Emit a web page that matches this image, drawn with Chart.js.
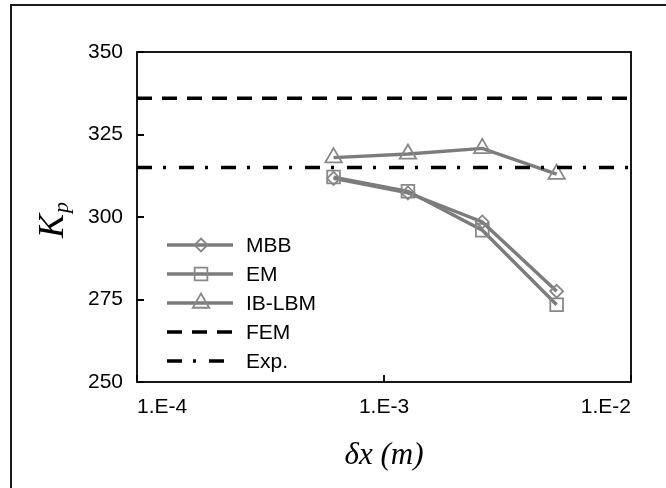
<!DOCTYPE html>
<html><head><meta charset="utf-8">
<script src="https://cdn.jsdelivr.net/npm/chart.js@4.4.0/dist/chart.umd.min.js"></script>
<style>html,body{margin:0;padding:0;background:#fff;}canvas{display:block;}</style>
</head><body>
<canvas id="c" width="666" height="488"></canvas>
<script>
// ---- data ----
const dx = [6.25e-4, 1.25e-3, 2.5e-3, 5e-3];
const mbb = [311.7, 307.3, 298.5, 277.5];
const em = [312.1, 307.8, 296.0, 273.4];
const iblbm = [318.0, 319.1, 320.8, 313.0];
const refX = [1e-4, 1e-2];
const fem = [336, 336];
const expv = [315, 315];
const xTickValues = [1e-4, 1e-3, 1e-2];
const xTickLabels = ['1.E-4', '1.E-3', '1.E-2'];
const yTicks = [250, 275, 300, 325, 350];
const seriesNames = ['MBB', 'EM', 'IB-LBM', 'FEM', 'Exp.'];

const GRAY = '#7c7c7c';
const SANS = '"Liberation Sans", Arial, sans-serif';
const SERIF = '"Liberation Serif", "Times New Roman", serif';

function series(label, vals, style, r) {
  return {
    label, data: dx.map((x, i) => ({x, y: vals[i]})),
    borderColor: GRAY, borderWidth: 3.4, pointStyle: style, pointRadius: r, pointHoverRadius: r,
    pointBorderColor: '#888', pointBorderWidth: 1.8, pointBackgroundColor: 'rgba(255,255,255,0)',
    tension: 0, order: 1
  };
}
function refLine(label, vals, dash) {
  return {
    label, data: refX.map((x, i) => ({x, y: vals[i]})),
    borderColor: '#000', borderWidth: 3.5, borderDash: dash, pointRadius: 0, pointHoverRadius: 0,
    tension: 0, order: 0
  };
}

function drawMarker(ctx, style, r, x, y) {
  ctx.beginPath();
  if (style === 'rectRot') {
    ctx.moveTo(x, y - r); ctx.lineTo(x + r, y); ctx.lineTo(x, y + r); ctx.lineTo(x - r, y); ctx.closePath();
  } else if (style === 'rect') {
    const s = Math.SQRT1_2 * r; ctx.rect(x - s, y - s, 2 * s, 2 * s);
  } else if (style === 'triangle') {
    ctx.moveTo(x, y - r);
    ctx.lineTo(x + Math.sin(2 * Math.PI / 3) * r, y - Math.cos(2 * Math.PI / 3) * r);
    ctx.lineTo(x + Math.sin(4 * Math.PI / 3) * r, y - Math.cos(4 * Math.PI / 3) * r);
    ctx.closePath();
  }
  ctx.stroke();
}

const decor = {
  id: 'decor',
  beforeDraw(chart) {
    const ctx = chart.ctx;
    ctx.save();
    ctx.fillStyle = '#fff'; ctx.fillRect(0, 0, chart.width, chart.height);
    ctx.strokeStyle = '#1a1a1a'; ctx.lineWidth = 2;
    ctx.beginPath(); ctx.moveTo(11, chart.height); ctx.lineTo(11, 5); ctx.lineTo(chart.width, 5); ctx.stroke();
    ctx.restore();
  },
  afterDraw(chart) {
    const ctx = chart.ctx, a = chart.chartArea, xs = chart.scales.x, ys = chart.scales.y;
    ctx.save();
    ctx.strokeStyle = '#000'; ctx.lineWidth = 1.8;
    ctx.strokeRect(a.left, a.top, a.right - a.left, a.bottom - a.top);
    ctx.beginPath();
    ys.ticks.forEach(t => { const py = Math.round(ys.getPixelForValue(t.value)); ctx.moveTo(a.left, py); ctx.lineTo(a.left + 7, py); });
    xs.ticks.forEach(t => { const px = Math.round(xs.getPixelForValue(t.value)); ctx.moveTo(px, a.bottom); ctx.lineTo(px, a.bottom - 7); });
    ctx.stroke();
    // legend
    chart.data.datasets.forEach((ds, i) => {
      const ly = 245 + 29 * i;
      ctx.save();
      ctx.strokeStyle = ds.borderColor; ctx.lineWidth = ds.borderWidth;
      ctx.setLineDash(ds.borderDash || []);
      ctx.beginPath(); ctx.moveTo(167, ly); ctx.lineTo(233, ly); ctx.stroke();
      ctx.setLineDash([]);
      if (ds.pointRadius) {
        ctx.lineWidth = ds.pointBorderWidth; ctx.strokeStyle = ds.pointBorderColor;
        drawMarker(ctx, ds.pointStyle, ds.pointRadius, 201, ly);
      }
      ctx.fillStyle = '#000'; ctx.font = '21px ' + SANS; ctx.textBaseline = 'middle'; ctx.textAlign = 'left';
      ctx.fillText(ds.label, 246, ly + 1);
      ctx.restore();
    });
    // y title K_p
    ctx.translate(63, 238); ctx.rotate(-Math.PI / 2);
    ctx.fillStyle = '#000'; ctx.textBaseline = 'alphabetic'; ctx.textAlign = 'left';
    ctx.font = 'italic 36px ' + SERIF;
    ctx.fillText('K', 0, 0);
    const w = ctx.measureText('K').width;
    ctx.font = 'italic 22px ' + SERIF;
    ctx.fillText('p', w + 1, 5);
    ctx.restore();
  }
};

new Chart(document.getElementById('c'), {
  type: 'line',
  data: {
    datasets: [
      series(seriesNames[0], mbb, 'rectRot', 6.5),
      series(seriesNames[1], em, 'rect', 9),
      series(seriesNames[2], iblbm, 'triangle', 9.5),
      refLine(seriesNames[3], fem, [15, 10]),
      refLine(seriesNames[4], expv, [15, 11, 3, 13])
    ]
  },
  options: {
    responsive: false, animation: false, devicePixelRatio: 1,
    layout: {padding: {left: 0, top: 52, right: 35, bottom: 0}},
    plugins: {legend: {display: false}, tooltip: {enabled: false}},
    scales: {
      x: {
        type: 'logarithmic', min: 1e-4, max: 1e-2,
        afterBuildTicks: s => { s.ticks = xTickValues.map(v => ({value: v, major: true})); },
        afterFit: s => { s.height = 106; },
        ticks: {
          callback: (v, i) => xTickLabels[i], align: 'inner', padding: 13, maxRotation: 0, autoSkip: false,
          font: {family: SANS, size: 21}, color: '#000'
        },
        grid: {display: false, drawTicks: false}, border: {display: false},
        title: {display: true, text: 'δx (m)', color: '#000', font: {family: SERIF, style: 'italic', size: 31}, padding: {top: 0, bottom: 14}}
      },
      y: {
        min: 250, max: 350,
        afterBuildTicks: s => { s.ticks = yTicks.map(v => ({value: v})); },
        afterFit: s => { s.width = 137; },
        ticks: {padding: 14, font: {family: SANS, size: 21}, color: '#000'},
        grid: {display: false, drawTicks: false}, border: {display: false}
      }
    }
  },
  plugins: [decor]
});
</script>
</body></html>
